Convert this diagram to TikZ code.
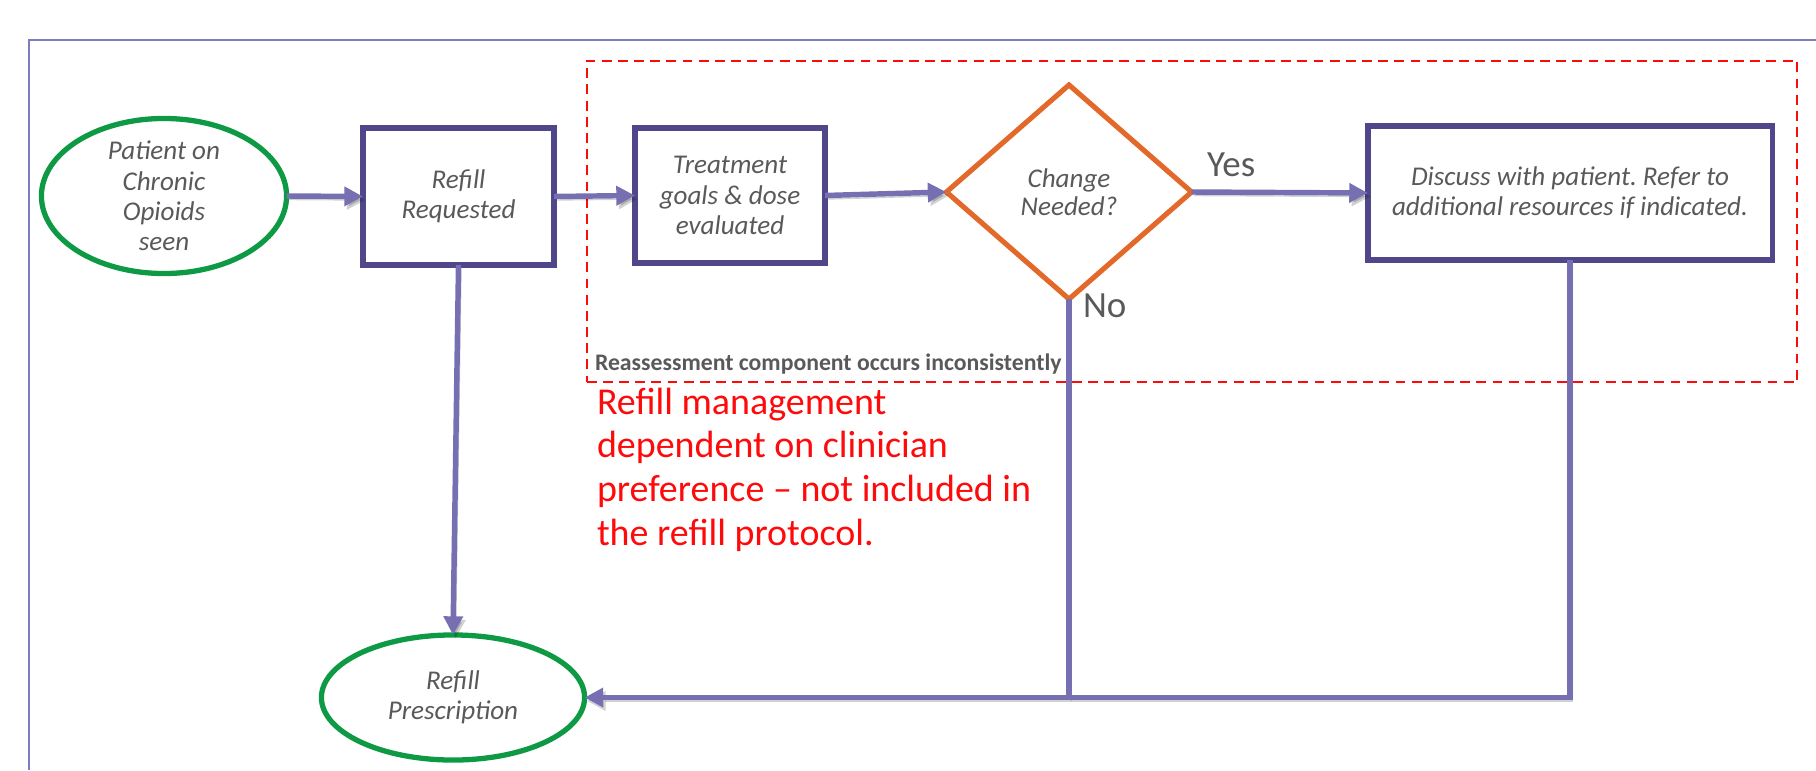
\documentclass[tikz,border=0pt]{standalone}
\usepackage{fontspec}
\setmainfont{Carlito}
\usetikzlibrary{shapes.geometric,arrows.meta}
\definecolor{boxc}{HTML}{4F4789}
\definecolor{linec}{HTML}{7670B3}
\definecolor{greenc}{HTML}{0E9A45}
\definecolor{orangec}{HTML}{E2692A}
\definecolor{txtc}{HTML}{595959}
\definecolor{framec}{HTML}{7D7DBE}
\definecolor{redc}{HTML}{FF0A0A}
\newcommand\mynodefont{\fontsize{7.7}{8.6}\selectfont\itshape}
\frenchspacing
\begin{document}
\begin{tikzpicture}[x=0.01cm,y=-0.01cm,
  every node/.style={inner sep=0pt, outer sep=0pt},
  procbox/.style={draw=boxc, line width=1.5pt, rectangle, align=center, font=\mynodefont, text=txtc},
  termell/.style={draw=greenc, line width=1.5pt, ellipse, align=center, font=\mynodefont, text=txtc},
  decis/.style={draw=orangec, line width=1.45pt, diamond, align=center, font=\fontsize{7.7}{8}\selectfont\itshape, text=txtc},
  shad/.style={preaction={draw=black, opacity=0.18, transform canvas={shift={(0.025cm,-0.035cm)}}}},
  conn/.style={draw=linec, line width=1.55pt, shad},
  arr/.style={conn, -{Triangle[length=5.3pt,width=5.3pt]}},
  lbl/.style={text=txtc, font=\fontsize{10.5}{12}\selectfont},
]
\useasboundingbox (0,0) rectangle (1816,770);
% outer frame
\draw[framec, line width=0.6pt] (29,770) -- (29,40) -- (1816,40);
% reassessment region
\node (region) [draw=redc, line width=0.6pt, dash pattern=on 2.8pt off 1.8pt, minimum width=12.1cm, minimum height=3.21cm] at (1192,221.5) {};
\node (regionlbl) [anchor=base west, text=txtc, font=\fontsize{6.75}{8}\selectfont\bfseries] at (595,370) {Reassessment component occurs inconsistently};
% nodes
\node (seen) [termell, minimum width=2.45cm, minimum height=1.52cm] at (164,196) {Patient on\\Chronic\\Opioids\\seen};
\node (req) [procbox, minimum width=1.91cm, minimum height=1.37cm] at (458.5,196.5) {Refill\\Requested};
\node (eval) [procbox, minimum width=1.90cm, minimum height=1.35cm] at (730,195.5) {Treatment\\goals \& dose\\evaluated};
\node (chg) [decis, minimum width=2.45cm, minimum height=2.14cm] at (1069,192) {Change\\Needed?};
\node (disc) [procbox, minimum width=4.04cm, minimum height=1.34cm] at (1570,193) {Discuss with patient. Refer to\\additional resources if indicated.};
\node (presc) [termell, minimum width=2.63cm, minimum height=1.25cm] at (453,697.5) {Refill\\Prescription};
% labels
\node (yes) [lbl, anchor=base west] at (1207,176) {Yes};
\node (no) [lbl, anchor=base west] at (1083,317) {No};
% note
\node (note) [anchor=north west, align=left, text=redc, font=\fontsize{10.8}{12.4}\selectfont] at (597,388) {Refill management\\dependent on clinician\\preference – not included in\\the refill protocol.};
% connectors
\draw[arr] (seen.east) -- (req.west);
\draw[arr] (req.east) -- (eval.west);
\draw[arr] (eval.east) -- (chg.west);
\draw[arr] (chg.east) -- (disc.west);
\draw[arr] (req.south) -- (presc.north);
\draw[conn] (chg.south) -- (chg.south |- presc.east);
\draw[arr] (disc.south) |- (presc.east);
\end{tikzpicture}
\end{document}
